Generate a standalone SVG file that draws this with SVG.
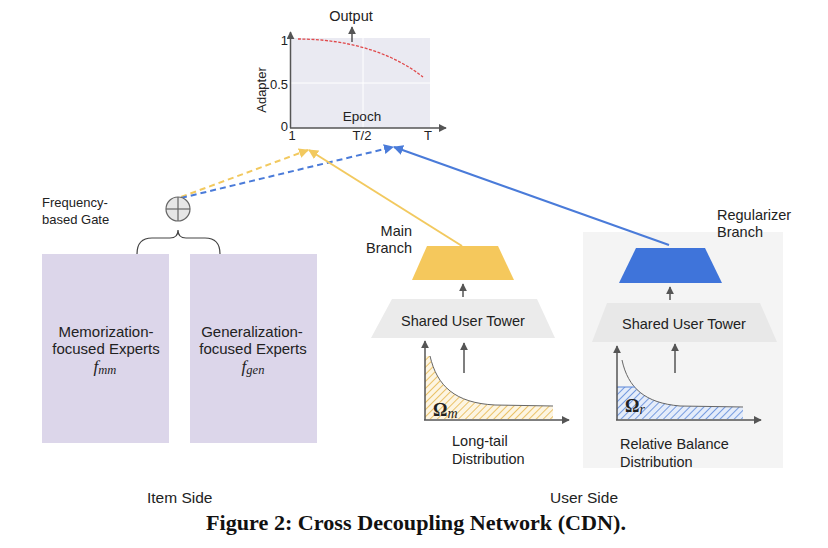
<svg xmlns="http://www.w3.org/2000/svg" width="828" height="548" viewBox="0 0 828 548">
<style>
  text { font-family: "Liberation Sans", Arial, sans-serif; fill: #222; }
  .t15 { font-size: 14.5px; }
  .t13 { font-size: 13px; }
  .math { font-family: "Liberation Serif", "DejaVu Serif", serif; font-style: italic; }
  .omega { font-family: "Liberation Serif", "DejaVu Serif", serif; font-weight: bold; }
  .dark { stroke: #555; stroke-width: 1.5; fill: none; }
  .ax { stroke: #555; stroke-width: 1.5; fill: none; }
  .cap { font-family: "Liberation Serif", "Times New Roman", serif; font-weight: bold; font-size: 21px; fill: #111; }
</style>
<defs>
  <marker id="ah" viewBox="0 0 10 10" refX="9" refY="5" markerWidth="8" markerHeight="8" markerUnits="userSpaceOnUse" orient="auto">
    <path d="M0,0 L10,5 L0,10 Z" fill="#555"/>
  </marker>
  <marker id="ahY" viewBox="0 0 10 10" refX="9" refY="5" markerWidth="10" markerHeight="10" markerUnits="userSpaceOnUse" orient="auto">
    <path d="M0,0 L10,5 L0,10 Z" fill="#f2c95f"/>
  </marker>
  <marker id="ahB" viewBox="0 0 10 10" refX="9" refY="5" markerWidth="10" markerHeight="10" markerUnits="userSpaceOnUse" orient="auto">
    <path d="M0,0 L10,5 L0,10 Z" fill="#4a7bd9"/>
  </marker>
  <pattern id="hatchY" patternUnits="userSpaceOnUse" width="5" height="5" patternTransform="rotate(45)">
    <rect width="5" height="5" fill="#fdf5e2"/>
    <line x1="0" y1="0" x2="0" y2="5" stroke="#e6b54a" stroke-width="1.6"/>
  </pattern>
  <pattern id="hatchB" patternUnits="userSpaceOnUse" width="5" height="5" patternTransform="rotate(45)">
    <rect width="5" height="5" fill="#e4ecfa"/>
    <line x1="0" y1="0" x2="0" y2="5" stroke="#5a86d8" stroke-width="1.6"/>
  </pattern>
  <clipPath id="clipR"><rect x="600" y="387" width="170" height="40"/></clipPath>
</defs>

<rect width="828" height="548" fill="#ffffff"/>

<!-- Adapter chart -->
<g id="adapter-chart">
  <rect x="291" y="38" width="139" height="90" fill="#eaeaf2"/>
  <line x1="291" y1="83" x2="430" y2="83" stroke="#ffffff" stroke-width="1"/>
  <line x1="363" y1="38" x2="363" y2="128" stroke="#ffffff" stroke-width="1"/>
  <line class="ax" x1="290.5" y1="128" x2="290.5" y2="32" marker-end="url(#ah)"/>
  <line class="ax" x1="290" y1="128" x2="446" y2="128" marker-end="url(#ah)"/>
  <path d="M298,39 C335,39 385,47 423,77" fill="none" stroke="#e0484a" stroke-width="1.3" stroke-dasharray="3,1.5"/>
  <line class="ax" x1="352" y1="42" x2="352" y2="27" marker-end="url(#ah)"/>
  <text x="351" y="21" text-anchor="middle" style="font-size:14.5px">Output</text>
  <text class="t13" x="288" y="45" text-anchor="end">1</text>
  <text class="t13" x="288" y="89" text-anchor="end">0.5</text>
  <text class="t13" x="288" y="131" text-anchor="end">0</text>
  <text class="t13" x="292" y="140" text-anchor="middle">1</text>
  <text class="t13" x="362" y="140" text-anchor="middle">T/2</text>
  <text class="t13" x="428" y="140" text-anchor="middle">T</text>
  <text x="362" y="121" text-anchor="middle" style="font-size:13.5px">Epoch</text>
  <text class="t13" x="0" y="0" text-anchor="middle" transform="translate(266,90) rotate(-90)">Adapter</text>
</g>

<!-- Right user panel background -->
<g id="user-panel">
  <rect x="583" y="232" width="200" height="236" fill="#f4f4f4"/>
</g>

<!-- Connectors -->
<g id="connectors">
  <line x1="181" y1="197" x2="308" y2="150" stroke="#f2c95f" stroke-width="2" stroke-dasharray="6,4" marker-end="url(#ahY)"/>
  <line x1="181" y1="198" x2="393" y2="147" stroke="#4a7bd9" stroke-width="2" stroke-dasharray="6,4" marker-end="url(#ahB)"/>
  <line x1="462" y1="246" x2="309" y2="150" stroke="#f2c95f" stroke-width="2" marker-end="url(#ahY)"/>
  <line x1="669" y1="245" x2="394" y2="147" stroke="#4a7bd9" stroke-width="2" marker-end="url(#ahB)"/>
  <line class="dark" x1="463" y1="297" x2="463" y2="284" marker-end="url(#ah)"/>
  <line class="dark" x1="670" y1="300" x2="670" y2="287" marker-end="url(#ah)"/>
  <line class="dark" x1="464" y1="373" x2="464" y2="343" marker-end="url(#ah)"/>
  <line class="dark" x1="675" y1="373" x2="675" y2="344" marker-end="url(#ah)"/>
</g>

<!-- Frequency-based gate -->
<g id="gate">
  <circle cx="178" cy="209" r="12" fill="#e6e6e6" stroke="#666" stroke-width="1.2"/>
  <line x1="166" y1="209" x2="190" y2="209" stroke="#666" stroke-width="1.2"/>
  <line x1="178" y1="197" x2="178" y2="221" stroke="#666" stroke-width="1.2"/>
  <text class="t13" x="42" y="207">Frequency-</text>
  <text class="t13" x="42" y="224">based Gate</text>
  <path d="M137,254 Q137,238 152,238 L170,238 Q178,238 178,230 Q178,238 186,238 L205,238 Q220,238 220,254" fill="none" stroke="#444" stroke-width="1.2"/>
</g>

<!-- Experts -->
<g id="memorization-experts">
  <rect x="42" y="254" width="127" height="189" fill="#dcd6ea"/>
  <text x="106" y="337" text-anchor="middle" style="font-size:15px">Memorization-</text>
  <text x="106" y="354" text-anchor="middle" style="font-size:15px">focused Experts</text>
  <text x="105" y="372" text-anchor="middle" class="math" style="font-size:17px">f<tspan style="font-size:12.5px" dy="2">mm</tspan></text>
</g>
<g id="generalization-experts">
  <rect x="190" y="254" width="127" height="189" fill="#dcd6ea"/>
  <text x="252" y="337" text-anchor="middle" style="font-size:15px">Generalization-</text>
  <text x="253" y="354" text-anchor="middle" style="font-size:15px">focused Experts</text>
  <text x="253" y="372" text-anchor="middle" class="math" style="font-size:17px">f<tspan style="font-size:12.5px" dy="2">gen</tspan></text>
</g>

<!-- Main branch -->
<g id="main-branch">
  <polygon points="427,246 498,246 514,280 412,280" fill="#f5c85c"/>
  <text x="412" y="236" text-anchor="end" style="font-size:14.5px">Main</text>
  <text x="412" y="253" text-anchor="end" style="font-size:14.5px">Branch</text>
</g>
<g id="shared-tower-left">
  <polygon points="392,299 537,299 555,338 371,338" fill="#ebebeb"/>
  <text class="t15" x="463" y="326" text-anchor="middle">Shared User Tower</text>
</g>
<g id="longtail-dist">
  <path d="M425,356 L430,356 C437,386 455,403 495,405 L553,406 L553,419 L425,419 Z" fill="url(#hatchY)"/>
  <path d="M430,356 C437,386 455,403 495,405 L553,406" fill="none" stroke="#666" stroke-width="1"/>
  <line class="ax" x1="425" y1="420" x2="425" y2="341" marker-end="url(#ah)"/>
  <line class="ax" x1="424" y1="420" x2="569" y2="420" marker-end="url(#ah)"/>
  <text class="omega" x="433" y="416" style="font-size:18px">Ω<tspan class="math" style="font-size:14px;font-weight:normal" dy="2">m</tspan></text>
  <text class="t15" x="452" y="446">Long-tail</text>
  <text class="t15" x="452" y="464">Distribution</text>
</g>

<!-- Regularizer branch -->
<g id="regularizer-branch">
  <polygon points="636,248 705,248 722,283 619,283" fill="#3f74da"/>
  <text x="717" y="220" style="font-size:14.5px">Regularizer</text>
  <text x="717" y="237" style="font-size:14.5px">Branch</text>
</g>
<g id="shared-tower-right">
  <polygon points="607,303 760,303 777,342 592,342" fill="#e8e8e8"/>
  <text class="t15" x="684" y="329" text-anchor="middle">Shared User Tower</text>
</g>
<g id="balance-dist">
  <path d="M617,360 L622,360 C628,388 645,403 680,406 L743,407 L743,419 L617,419 Z" fill="url(#hatchB)" clip-path="url(#clipR)"/>
  <path d="M622,360 C628,388 645,403 680,406 L743,407" fill="none" stroke="#666" stroke-width="1"/>
  <line x1="617" y1="387" x2="635" y2="387" stroke="#5a86d8" stroke-width="1"/>
  <line class="ax" x1="617" y1="420" x2="617" y2="346" marker-end="url(#ah)"/>
  <line class="ax" x1="616" y1="420" x2="761" y2="420" marker-end="url(#ah)"/>
  <text class="omega" x="625" y="412" style="font-size:18px">Ω<tspan class="math" style="font-size:14px;font-weight:normal" dy="2">r</tspan></text>
  <text class="t15" x="620" y="449">Relative Balance</text>
  <text class="t15" x="620" y="467">Distribution</text>
</g>

<!-- Side labels and caption -->
<text x="147" y="503" style="font-size:15.5px">Item Side</text>
<text x="550" y="503" style="font-size:15.5px">User Side</text>
<text class="cap" x="206" y="530" textLength="420" lengthAdjust="spacingAndGlyphs">Figure 2: Cross Decoupling Network (CDN).</text>
</svg>
